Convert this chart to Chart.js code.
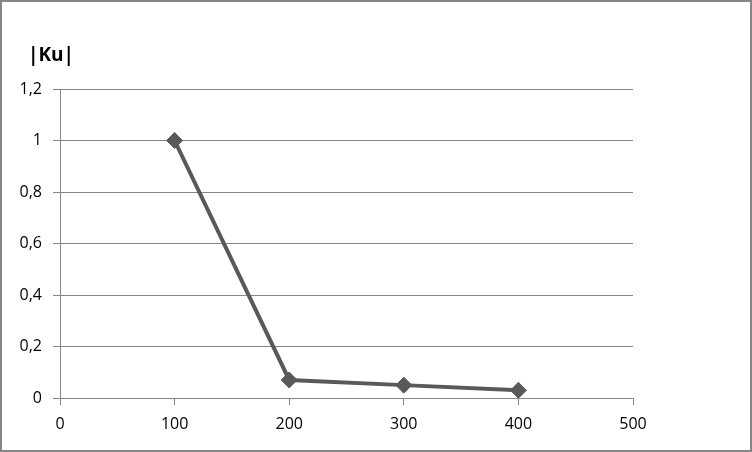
<!DOCTYPE html>
<html>
<head>
<meta charset="utf-8">
<script src="https://cdn.jsdelivr.net/npm/chart.js@4.4.1/dist/chart.umd.min.js"></script>
<style>
  html, body { margin: 0; padding: 0; background: #ffffff; }
  #wrap { width: 752px; height: 452px; position: relative; }
</style>
</head>
<body>
<div id="wrap"><canvas id="chart" width="752" height="452"></canvas></div>
<script>
"use strict";

// data
var xValues = [100, 200, 300, 400];
var kuValues = [1, 0.07, 0.05, 0.03];
var yTitle = "|Ku|";

var FONT = "'Open Sans', 'DejaVu Sans', sans-serif";
var AXIS = "#868686";

var frame = {
  id: "frame",
  beforeDraw: function(chart) {
    var ctx = chart.ctx;
    ctx.save();
    ctx.fillStyle = "#ffffff";
    ctx.fillRect(0, 0, chart.width, chart.height);
    ctx.restore();
  },
  afterDraw: function(chart) {
    var ctx = chart.ctx;
    ctx.save();
    ctx.strokeStyle = AXIS;
    ctx.lineWidth = 2;
    ctx.strokeRect(1, 1, chart.width - 2, chart.height - 2);
    ctx.fillStyle = "#000000";
    ctx.font = "bold 19px " + FONT;
    ctx.textAlign = "center";
    ctx.textBaseline = "middle";
    ctx.fillText(yTitle, 51, 56);
    ctx.restore();
  }
};

new Chart(document.getElementById("chart"), {
  type: "scatter",
  data: {
    datasets: [{
      data: xValues.map(function(x, i) { return { x: x, y: kuValues[i] }; }),
      showLine: true,
      borderColor: "#595959",
      backgroundColor: "#595959",
      borderWidth: 4,
      pointStyle: "rectRot",
      pointRadius: 8,
      pointBorderWidth: 1,
      pointBorderColor: "#595959",
      pointBackgroundColor: "#595959",
      tension: 0
    }]
  },
  options: {
    responsive: false,
    animation: false,
    layout: { padding: { left: 0, right: 119, top: 89, bottom: 0 } },
    plugins: {
      legend: { display: false },
      tooltip: { enabled: false }
    },
    scales: {
      x: {
        type: "linear",
        min: 0,
        max: 500,
        afterFit: function(s) { s.height = 54; },
        ticks: {
          stepSize: 100,
          color: "#000000",
          padding: 10,
          font: { family: FONT, size: 16 }
        },
        grid: {
          drawOnChartArea: false,
          drawTicks: true,
          tickLength: 7,
          color: AXIS
        },
        border: { color: AXIS, width: 1 }
      },
      y: {
        min: 0,
        max: 1.2,
        afterFit: function(s) { s.width = 60; },
        ticks: {
          stepSize: 0.2,
          color: "#000000",
          padding: 11,
          font: { family: FONT, size: 16 },
          callback: function(v) {
            return String(Math.round(v * 10) / 10).replace(".", ",");
          }
        },
        grid: {
          drawTicks: true,
          tickLength: 7,
          color: AXIS
        },
        border: { color: AXIS, width: 1 }
      }
    }
  },
  plugins: [frame]
});
</script>
</body>
</html>
